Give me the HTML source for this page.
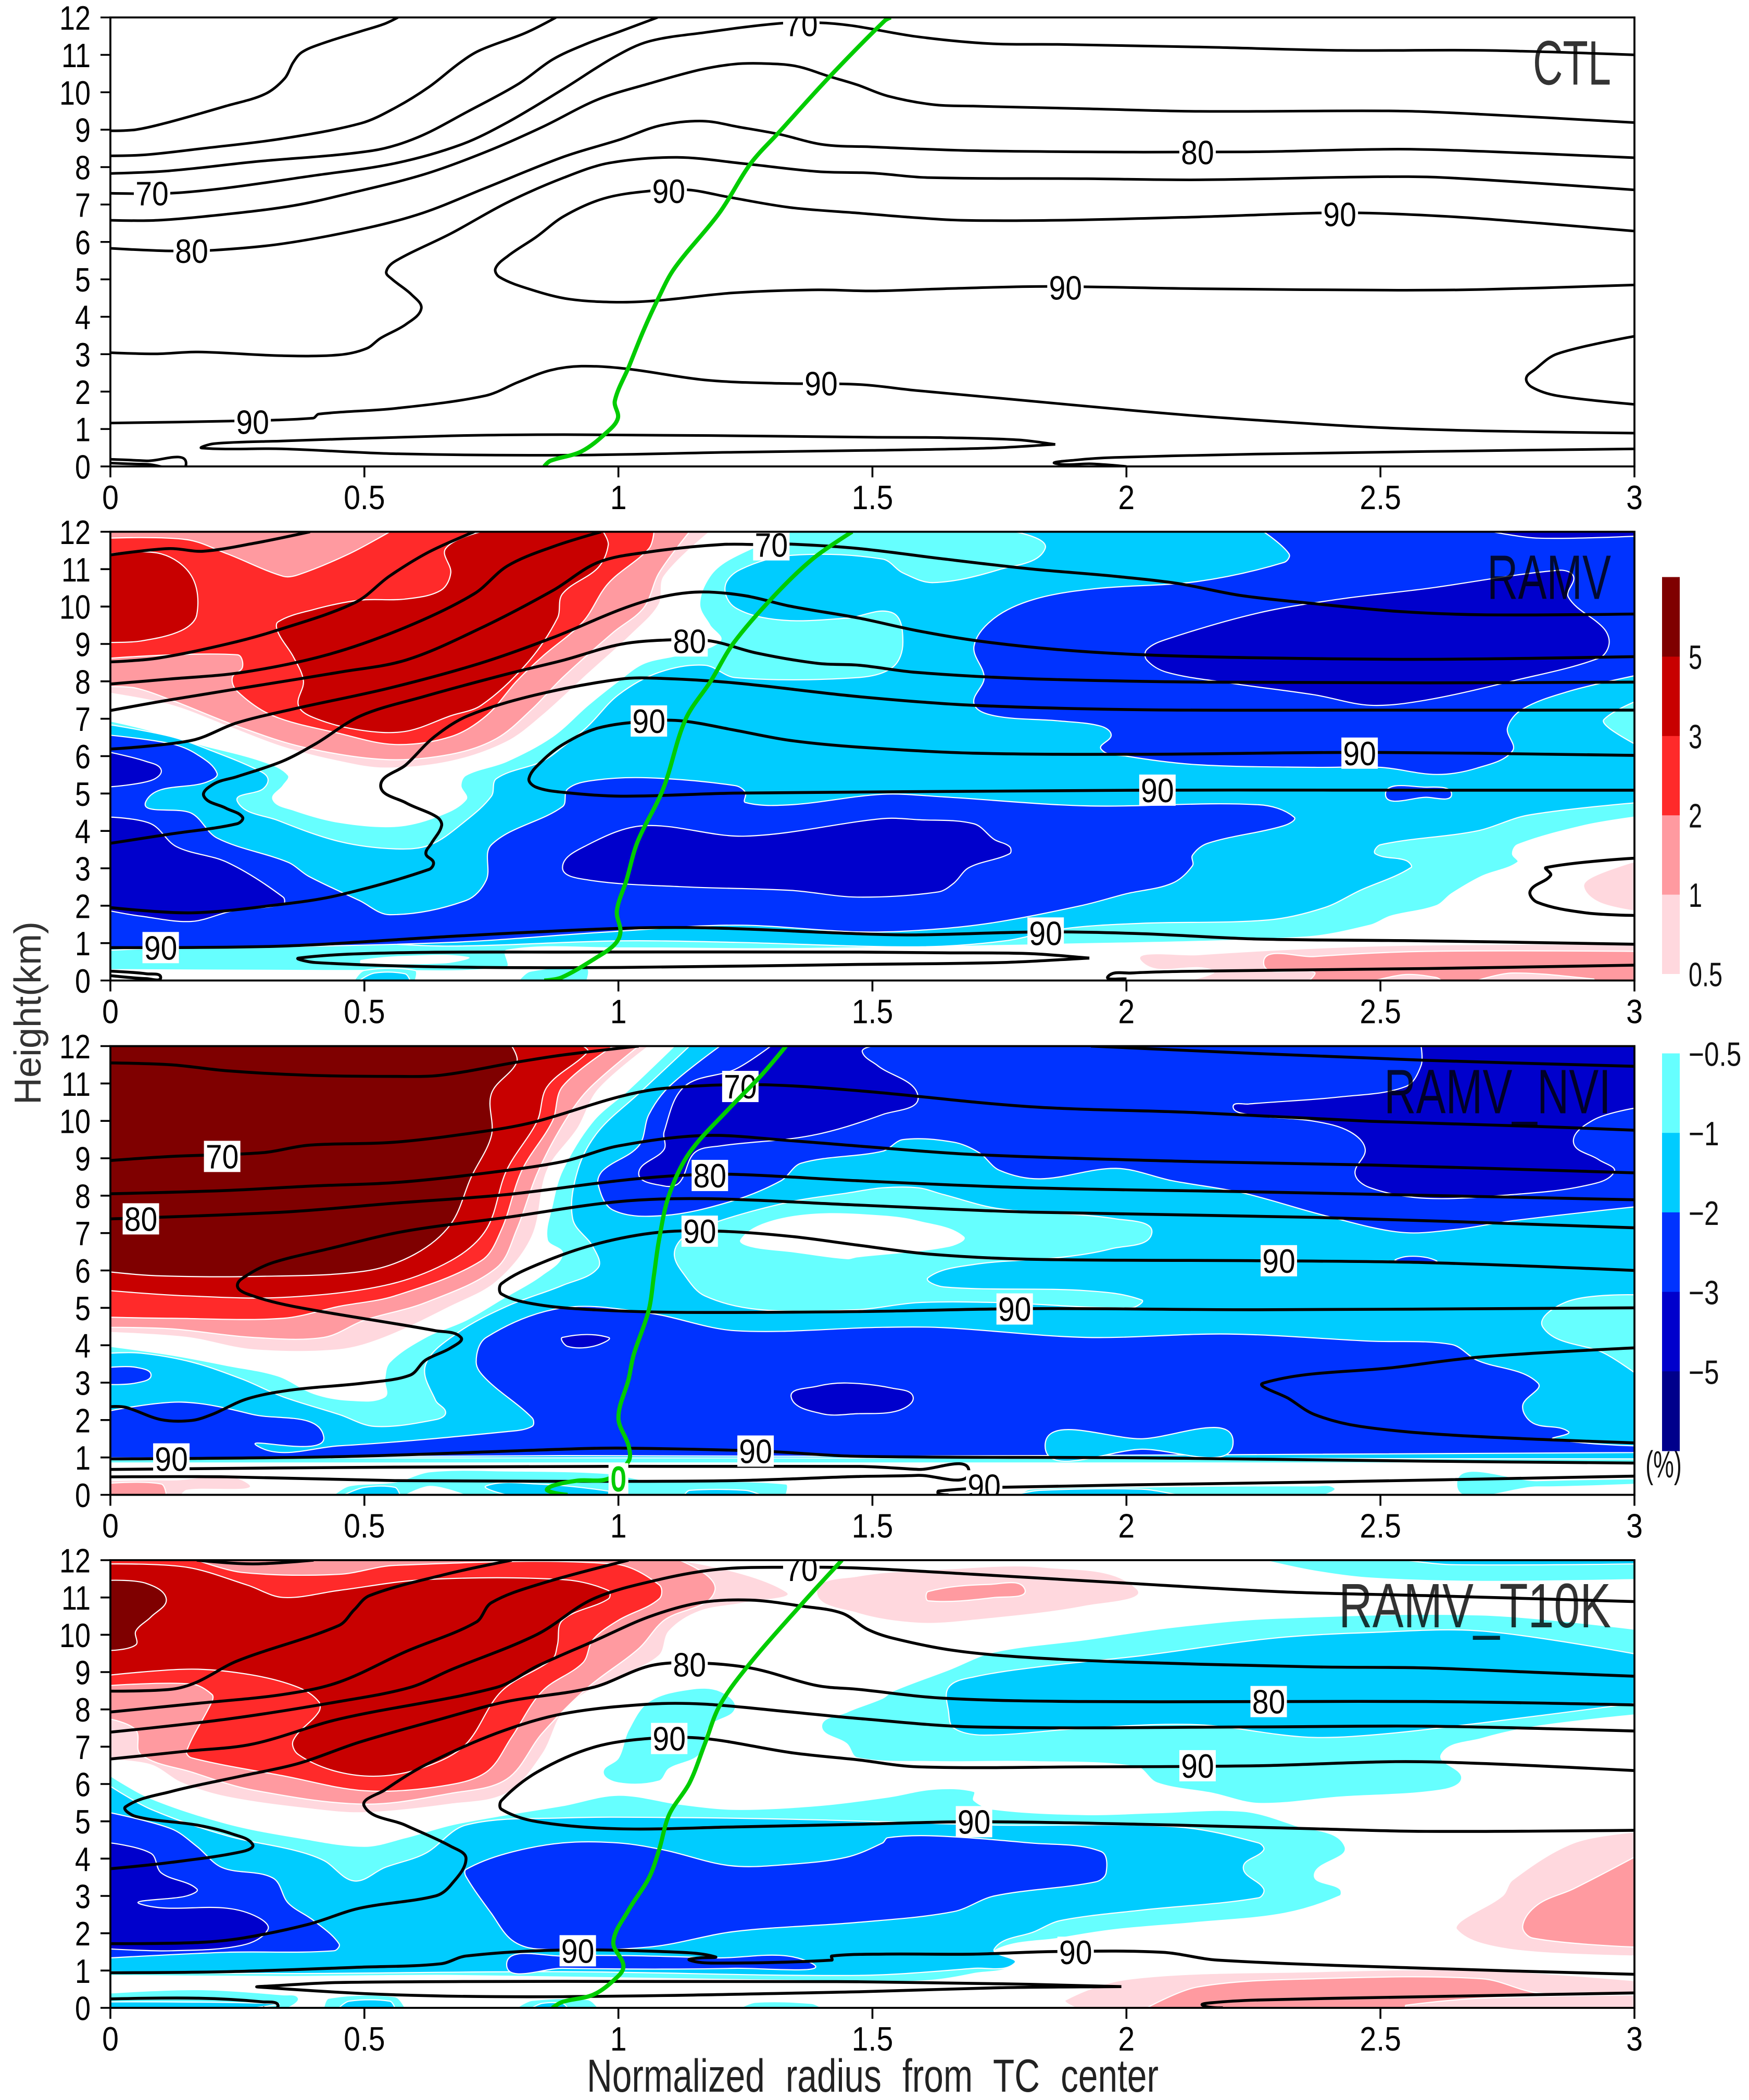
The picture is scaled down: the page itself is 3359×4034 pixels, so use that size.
<!DOCTYPE html>
<html lang="en">
<head>
<meta charset="utf-8">
<title>Relative humidity cross sections</title>
<style>
html,body{margin:0;padding:0;background:#fff;}
svg{display:block;font-family:"Liberation Sans",sans-serif;}
</style>
</head>
<body>
<svg id="chart" xmlns="http://www.w3.org/2000/svg" width="3359" height="4034" viewBox="0 0 3359 4034">
<rect x="0" y="0" width="3359" height="4034" fill="#ffffff"/>
<text transform="translate(78,1946) rotate(-90)" font-size="72" text-anchor="middle" fill="#333">Height(km)</text>
<text x="1127" y="4018" font-size="89" word-spacing="28" textLength="1098" lengthAdjust="spacingAndGlyphs" fill="#222">Normalized radius from TC center</text>
<text transform="translate(3195,2838) scale(.62,1)" font-size="72" text-anchor="middle" fill="#111">(%)</text>
</svg>
<script>
const xTicks = [0, 0.5, 1, 1.5, 2, 2.5, 3];
const xTickLabels = ['0', '0.5', '1', '1.5', '2', '2.5', '3'];
const yTicks = [0, 1, 2, 3, 4, 5, 6, 7, 8, 9, 10, 11, 12];
const positiveLevels = [0.5, 1, 2, 3, 5];
const negativeLevels = [-0.5, -1, -2, -3, -5];
const panelTitles = ['CTL', 'RAMV', 'RAMV_NVI', 'RAMV_T10K'];

/* ---------- CTL ---------- */
const ctlContours = [
[0,8.97,.05,9,.115,9.2,.227,9.63,.304,9.95,.343,10.37,.36,10.8,.377,11.07,.416,11.3,.493,11.63,.538,11.82,.566,12],
[0,8.3,.07,8.33,.182,8.5,.338,8.76,.493,9.17,.56,9.58,.627,10.14,.688,10.79,.727,11.12,.816,11.58,.877,12],
[0,7.83,.115,7.9,.282,8.14,.516,8.44,.604,8.79,.704,9.49,.804,10.23,.871,10.88,.938,11.3,1.004,11.63,1.077,12],
[0,7.3,.115,7.3,.227,7.44,.393,7.76,.56,8.1,.69,8.6,.782,9.2,.893,10.1,.993,10.95,1.06,11.36,1.171,11.6,1.316,11.84,1.393,11.86,1.46,11.78,1.586,11.49,1.731,11.3,1.865,11.28,2.144,11.21,2.424,11.12,2.703,11.12,3,11],
[0,6.58,.093,6.58,.227,6.74,.36,6.97,.471,7.3,.616,7.8,.738,8.4,.85,9.07,.96,9.81,1.06,10.23,1.16,10.6,1.227,10.75,1.282,10.77,1.349,10.7,1.416,10.42,1.47,10.2,1.53,9.9,1.62,9.67,1.698,9.63,1.921,9.56,2.144,9.49,2.535,9.5,2.703,9.41,3,9.19],
[0,5.83,.115,5.76,.204,5.78,.338,5.95,.504,6.37,.616,6.78,.738,7.44,.893,8.28,1.004,8.74,1.082,9.11,1.166,9.23,1.238,9.07,1.316,8.88,1.404,8.6,1.5,8.54,1.698,8.44,2.033,8.4,2.256,8.41,2.535,8.48,2.703,8.42,3,8.25],
[0,3.04,.093,3.01,.171,3.06,.338,2.96,.449,2.98,.504,3.15,.532,3.43,.582,3.8,.612,4.22,.593,4.59,.554,5.01,.543,5.2,.56,5.48,.671,6.23,.782,7.06,.893,7.72,.982,8.11,1.116,8.26,1.249,8.09,1.393,7.88,1.5,7.84,1.608,7.72,1.921,7.69,2.144,7.66,2.48,7.74,2.625,7.72,3,7.39],
[3,6.29,2.815,6.5,2.647,6.67,2.48,6.77,2.368,6.77,2.144,6.67,1.865,6.58,1.675,6.58,1.564,6.67,1.474,6.77,1.338,6.92,1.216,7.2,1.138,7.39,1.06,7.36,.971,7.16,.893,6.69,.838,6.13,.782,5.62,.758,5.29,.766,5.06,.827,4.73,.904,4.47,1.004,4.39,1.082,4.44,1.227,4.64,1.393,4.72,1.5,4.69,1.642,4.75,1.843,4.81,2.144,4.75,2.535,4.71,2.703,4.73,3,4.85],
[3,3.48,2.848,3.01,2.804,2.59,2.787,2.36,2.798,2.12,2.848,1.89,3,1.66],
[0,1.16,.227,1.21,.399,1.29,.41,1.4,.56,1.55,.738,1.89,.804,2.26,.866,2.57,.927,2.68,1.016,2.61,1.171,2.31,1.316,2.22,1.474,2.19,1.586,2.03,1.81,1.75,2.033,1.47,2.2,1.29,2.48,1.05,2.703,.95,3,.89],
[3,.47,2.591,.4,2.256,.33,1.977,.24,1.899,.17,1.86,.08,1.932,.07,2,0],
[1.86,.59,1.788,.71,1.642,.77,1.5,.78,1.227,.82,.893,.85,.671,.82,.338,.68,.204,.61,.18,.49,.338,.47,.56,.34,.893,.3,1.227,.38,1.5,.43,1.731,.49,1.86,.59],
[0,.19,.071,.15,.149,.08,.071,.06,0,.09]
];
const ctlGreen = [.854,0,.866,.15,.927,.4,.977,.91,.999,1.29,.993,1.75,1.021,2.68,1.049,3.62,1.077,4.45,1.11,5.29,1.199,6.78,1.26,8.09,1.316,8.93,1.416,10.42,1.524,11.91,1.536,12];
const ctlLabels = [[.082,7.3,'70'],[.16,5.76,'80'],[.28,1.19,'90'],[1.099,7.36,'90'],[1.399,2.22,'90'],[1.36,11.82,'70'],[2.14,8.4,'80'],[2.42,6.74,'90'],[1.88,4.78,'90']];
const ctlFills = [];

/* ---------- RAMV ---------- */
const ramvFills = [
[-0.5,[0,6.94,.06,6.75,.17,6.33,.30,5.86,.35,5.49,.34,5.21,.32,4.84,.36,4.56,.45,4.23,.56,4.12,.64,4.37,.70,4.84,.69,5.21,.70,5.49,.78,5.86,.87,6.52,.94,7.36,1.0,8.01,1.05,8.48,1.12,8.71,1.20,9.08,1.18,9.5,1.16,10.06,1.18,10.81,1.22,11.27,1.34,12,3,12,3,4.37,2.90,4.14,2.77,3.63,2.76,3.39,2.77,3.16,2.70,2.79,2.64,2.32,2.61,2.0,2.52,1.72,2.48,1.48,2.35,1.16,1.81,.95,1.59,.9,1.3,.85,1.0,.87,.78,.81,.78,.36,.50,.27,.36,.27,0,.29]],
[0,[.493,.55,.582,.66,.704,.63,.66,.46,.493,.46]],
[-0.5,[.804,0,.827,.25,.938,.32,.938,0]],
[-0.5,[.48,0,.50,.27,.60,.27,.60,0]],
[-1,[.49,0,.52,.2,.58,.18,.59,0]],
[-1,[0,6.84,.12,6.52,.20,6.14,.29,5.63,.31,5.40,.30,5.12,.25,4.79,.33,4.28,.45,3.72,.56,3.52,.63,3.63,.70,4.28,.75,4.93,.76,5.40,.85,5.86,.89,6.24,.94,6.80,1.0,7.64,1.08,8.24,1.17,8.43,1.23,8.10,1.47,8.10,1.54,8.38,1.56,9.04,1.54,9.83,1.45,9.69,1.32,9.64,1.23,9.97,1.21,10.53,1.24,10.99,1.34,11.37,1.52,11.27,1.56,10.9,1.62,10.64,1.75,10.99,1.84,11.55,1.78,12,3,12,3,4.75,2.79,4.42,2.69,4.0,2.50,3.63,2.49,3.39,2.55,3.21,2.56,3.02,2.46,2.41,2.39,1.95,2.28,1.62,2.03,1.53,1.88,1.39,1.76,1.06,1.59,.9,1.23,1.02,1.0,1.06,.67,.92,.45,1.02,0,.81]],
[-2,[0,6.56,.12,6.33,.17,6.05,.21,5.54,.19,5.31,.07,4.79,.16,4.47,.21,3.81,.35,3.16,.39,2.79,.49,2.14,.55,1.76,.70,2.14,.74,2.69,.75,3.63,.89,4.65,.90,5.12,.95,5.35,1.06,5.42,1.23,5.21,1.25,5.03,1.25,4.76,1.34,4.70,1.52,4.98,1.64,4.91,1.92,4.67,2.26,4.70,2.33,4.37,2.31,4.14,2.16,3.67,2.13,3.35,2.13,3.07,2.09,2.60,2.0,2.32,1.91,2.0,1.73,1.53,1.59,1.34,1.47,1.30,1.23,1.48,.98,1.30,.67,1.02,.23,.88,0,.88]],
[-2,[2.27,12,2.32,11.41,2.31,11.18,2.14,10.67,1.94,10.48,1.82,10.2,1.74,9.69,1.70,8.94,1.72,8.10,1.70,7.40,1.74,7.08,1.87,6.94,1.95,6.80,1.97,6.56,1.95,6.19,2.0,6.0,2.14,5.77,2.37,5.70,2.50,5.70,2.61,5.51,2.69,5.68,2.76,6.14,2.75,6.75,2.78,7.26,2.87,7.73,3,8.15,3,12]],
[-2,[2.51,4.98,2.59,5.17,2.64,4.98,2.59,4.90]],
[-3,[2.04,8.85,2.08,9.13,2.26,9.83,2.42,10.2,2.59,10.48,2.85,10.97,2.88,10.81,2.87,10.25,2.94,9.41,2.95,8.99,2.93,8.62,2.76,8.01,2.59,7.50,2.48,7.36,2.37,7.64,2.2,7.96,2.08,8.24,2.04,8.57]],
[-3,[2.72,12,2.81,11.83,3,11.88,3,12]],
[-3,[.89,3.02,.94,3.63,1.05,4.14,1.25,3.86,1.52,4.33,1.59,4.30,1.70,4.19,1.74,3.77,1.77,3.58,1.77,3.39,1.69,3.02,1.66,2.60,1.63,2.37,1.47,2.23,1.34,2.41,1.12,2.51,.94,2.69]],
[-3,[0,6.10,.07,5.86,.10,5.63,.08,5.35,0,5.18]],
[-3,[0,4.37,.08,4.19,.13,3.58,.23,3.16,.34,2.23,.34,2.04,.24,1.86,.16,1.58,.06,1.72,0,1.86]],
[-0.5,[3,7.45,2.94,6.98,2.95,6.75,3,6.33]],
[0.5,[3,3.18,2.92,2.79,2.90,2.51,2.93,2.09,3,1.86]],
[0.5,[2.03,.5,2.14,.69,2.48,.92,2.76,.97,3,.97,3,0,2.12,0,2.17,.27]],
[1,[2.27,.48,2.37,.64,2.59,.78,3,.78,3,0,2.36,0,2.37,.22]],
[0.5,[2.49,0,2.55,.16,2.61,.08,2.62,0]],
[0.5,[2.69,0,2.76,.2,2.92,.04,2.92,0]],
[0.5,[0,12,0,7.68,.12,7.36,.23,6.80,.34,6.24,.45,5.86,.54,5.68,.67,5.86,.78,6.38,.85,7.08,.94,8.20,1.03,9.31,1.08,10.06,1.09,10.81,1.18,12]],
[1,[0,12,0,7.86,.05,7.82,.12,7.5,.25,6.80,.38,6.24,.54,5.91,.67,6.05,.76,6.47,.83,7.26,.89,8.10,.99,9.31,1.05,9.97,1.08,10.9,1.14,12]],
[2,[0,11.83,.15,11.79,.23,11.41,.34,10.81,.37,10.85,.47,11.41,.55,12,1.07,12,1.06,11.55,.98,10.62,.93,9.59,.85,8.66,.80,8.01,.74,7.08,.67,6.52,.56,6.31,.45,6.61,.32,7.08,.25,7.73,.24,8.10,.26,8.38,.25,8.71,0,8.62]],
[3,[.73,12,.97,12,.98,11.65,.96,11.04,.89,10.34,.88,9.69,.82,8.48,.73,7.36,.67,7.08,.58,6.66,.49,6.70,.40,7.03,.37,7.36,.38,8.01,.36,8.66,.33,9.31,.33,9.59,.40,9.92,.49,10.17,.58,10.2,.65,10.43,.67,10.9,.66,11.55]],
[3,[0,11.41,.10,11.41,.16,10.81,.17,9.78,.14,9.36,.06,9.08,0,9.04]]
];
const ramvContours = [
[0,11.38,.115,11.55,.182,11.48,.282,11.69,.393,12],
[0,8.52,.093,8.62,.227,8.99,.327,9.36,.482,10.11,.549,10.81,.627,11.46,.716,12],
[0,7.93,.115,8.06,.26,8.24,.427,8.71,.582,9.45,.716,10.34,.782,11.09,.871,11.6,.966,12],
[0,7.22,.115,7.5,.282,7.87,.449,8.24,.582,8.57,.727,9.41,.871,10.43,.96,11.18,1.06,11.46,1.204,11.66,1.301,11.65,1.338,11.67,1.474,11.55,1.642,11.27,1.809,11.01,1.977,10.81,2.1,10.62,2.223,10.3,2.368,10.08,2.535,9.87,2.703,9.78,3,9.8],
[0,6.19,.16,6.42,.249,6.89,.36,7.26,.549,7.82,.727,8.48,.871,9.17,1.004,9.92,1.082,10.25,1.16,10.39,1.249,10.29,1.338,10.01,1.474,9.69,1.586,9.36,1.709,9.08,1.865,8.85,2.033,8.71,2.256,8.63,2.591,8.59,3,8.66],
[0,3.67,.115,3.91,.249,4.19,.26,4.37,.227,4.61,.184,4.93,.204,5.26,.249,5.45,.338,5.86,.404,6.33,.493,7.08,.616,7.59,.782,8.2,.893,8.57,1.004,8.99,1.104,9.11,1.182,9.08,1.271,8.76,1.393,8.48,1.474,8.43,1.586,8.24,1.809,8.07,2.144,7.98,2.591,7.96,3,7.98],
[0,1.95,.16,1.81,.338,2.04,.449,2.28,.627,2.97,.636,3.16,.621,3.39,.632,3.67,.652,4.14,.643,4.37,.582,4.75,.532,5.21,.582,5.77,.638,6.52,.704,7.08,.838,7.64,1.004,8.06,1.082,8.08,1.227,7.96,1.474,7.59,1.698,7.36,2.033,7.24,2.48,7.23,3,7.23],
[3,6.02,2.48,6.1,2.033,6.05,1.698,6.08,1.474,6.24,1.338,6.42,1.227,6.7,1.127,6.94,1.06,6.94,.96,6.75,.893,6.33,.849,5.86,.824,5.4,.838,5.17,.893,5.03,1.004,4.93,1.227,5.01,1.474,5.04,2.033,5.09,2.591,5.09,3,5.09],
[3,3.27,2.826,3.02,2.835,2.81,2.795,2.4,2.809,2.09,2.904,1.81,3,1.74],
[0,.88,.338,.92,.671,1.18,.993,1.39,1.171,1.41,1.474,1.25,1.586,1.22,1.843,1.3,2.033,1.25,2.256,1.11,2.591,1.06,3,.97],
[1.927,.6,1.809,.72,1.642,.74,1.474,.76,.893,.76,.56,.74,.371,.6,.404,.48,.671,.36,1.004,.35,1.474,.43,1.754,.48,1.927,.6],
[3,.41,2.591,.32,2.144,.25,2.01,.2,1.964,.11,2,.04],
[0,.25,.071,.18,.099,.08,.071,.05,0,.13]
];
const ramvGreen = [.854,0,.888,.08,.96,.64,.993,.97,1.004,1.3,.997,1.86,1.016,2.69,1.038,3.72,1.088,5.12,1.132,6.98,1.182,8.01,1.227,9.03,1.304,10.25,1.382,11.27,1.46,12];
const ramvLabels = [[1.301,11.65,'70'],[1.14,9.08,'80'],[1.06,6.94,'90'],[.099,.88,'90'],[2.459,6.08,'90'],[2.061,5.09,'90'],[1.841,1.27,'90']];

/* ---------- RAMV_NVI ---------- */
const nviFills = [
[-0.5,[0,3.97,.12,3.74,.23,3.46,.33,3.18,.40,2.71,.47,2.53,.54,2.62,.54,3.09,.55,3.55,.62,4.21,.70,4.67,.77,5.23,.85,5.88,.89,6.44,.86,6.82,.87,7.75,.89,8.68,.95,9.99,1.02,10.83,1.11,12,3,12,3,.85,1.0,.85,0,.85]],
[-0.5,[.44,0,.47,.24,.56,.34,.63,.62,.78,.64,.98,.57,1.06,.38,1.33,.29,1.33,0]],
[0,[.58,0,.63,.24,.70,0]],
[-1,[.74,.24,.84,.29,.98,.10,.98,0,.78,0]],
[-1,[.46,0,.50,.2,.56,.2,.57,0]],
[-1,[1.13,0,1.14,.12,1.25,.12,1.28,0]],
[-0.5,[1.79,0,1.81,.15,2.03,.21,2.37,.24,2.41,.18,2.39,0]],
[-1,[1.78,0,1.83,.12,2.03,.15,2.10,0]],
[-0.5,[2.65,.29,2.81,.38,3,.43,3,.28,2.81,.21]],
[-1,[1.14,12,1.04,10.73,.96,9.71,.92,8.68,.91,7.38,.95,6.63,.96,6.07,.89,5.60,.78,5.04,.68,4.30,.62,3.46,.64,2.53,.66,2.20,.64,2.01,.52,1.83,.45,2.15,.34,2.62,.26,3.09,.16,3.55,.06,3.79,0,3.79,0,.98,1.0,.99,3,.96,3,12]],
[-0.5,[1.11,6.44,1.13,6.91,1.20,7.33,1.34,7.84,1.45,8.07,1.52,8.21,1.59,8.21,1.64,8.03,1.75,7.65,1.98,7.38,2.05,7.0,1.97,6.58,1.87,6.35,1.70,6.16,1.61,5.81,1.64,5.56,1.92,5.46,2.03,5.21,2.01,5.0,1.75,5.14,1.59,5.14,1.47,4.95,1.28,4.95,1.17,5.32,1.13,5.88]],
[0,[1.24,6.82,1.29,7.28,1.39,7.52,1.52,7.47,1.59,7.33,1.68,6.91,1.65,6.63,1.47,6.35,1.45,6.30,1.34,6.49,1.26,6.63]],
[-0.5,[3,5.35,2.87,5.18,2.82,4.48,2.94,3.79,3,3.27]],
[-2,[1.20,12,1.10,10.92,1.06,10.17,1.04,9.33,.97,8.68,.96,8.31,.99,7.61,1.09,7.47,1.22,7.84,1.32,8.40,1.36,8.87,1.52,9.19,1.56,9.50,1.66,9.43,1.71,9.15,1.75,8.68,1.83,8.45,1.98,8.73,2.09,8.40,2.23,8.07,2.39,7.47,2.54,7.02,2.65,7.10,2.76,7.33,3,7.70,3,12]],
[-2,[.74,4.21,.89,5.0,1.06,4.86,1.23,4.39,1.52,4.48,1.64,4.47,1.92,4.21,2.20,4.30,2.48,4.11,2.64,4.02,2.69,3.60,2.81,2.99,2.78,2.39,2.80,1.92,2.87,1.69,2.84,1.50,3,1.31,3,1.13,1.47,1.03,.89,1.05,.12,.99,0,.99,0,2.25,.14,2.48,.28,2.15,.42,1.55,.29,1.30,.45,1.31,.78,1.69,.83,1.83,.83,2.06,.74,3.09,.72,3.55]],
[-2,[0,3.41,.05,3.41,.08,3.20,.05,2.99,0,2.95]],
[-1,[1.84,1.31,2.03,1.50,2.21,1.41,2.03,1.22]],
[-2,[2.53,6.26,2.55,6.37,2.59,6.35,2.61,6.23]],
[-3,[1.30,12,1.23,11.38,1.13,10.92,1.09,9.71,1.09,9.24,1.04,8.59,1.09,8.26,1.12,8.35,1.15,9.15,1.20,9.33,1.38,9.61,1.52,10.17,1.59,10.64,1.51,11.48,1.48,11.85,1.50,12]],
[-3,[2.58,12,2.58,11.48,2.55,10.92,2.42,10.64,2.24,10.45,2.21,10.38,2.24,10.17,2.37,9.99,2.44,9.71,2.47,9.24,2.45,8.59,2.48,8.21,2.59,7.93,2.76,8.03,2.90,8.26,2.96,8.63,2.93,8.96,2.88,9.43,2.92,10.03,3,10.34,3,12]],
[-3,[.89,4.21,.98,4.21,.95,3.97,.90,3.97]],
[-3,[1.34,2.62,1.39,2.90,1.45,2.99,1.54,2.85,1.58,2.62,1.55,2.25,1.47,2.17,1.40,2.17]],
[0.5,[0,.38,.12,.40,.27,.32,.15,.12,.14,0,0,0]],
[1,[0,.31,.10,.29,.11,0,0,0]],
[0.5,[0,12,1.06,12,.96,10.83,.92,9.80,.86,8.68,.83,6.91,.76,5.70,.67,5.04,.54,4.21,.45,3.88,.28,3.88,.15,4.21,0,4.34]],
[1,[0,12,1.04,12,.94,10.83,.89,9.89,.84,8.59,.80,7.10,.76,6.07,.62,5.14,.50,4.67,.42,4.21,.28,4.21,.12,4.44,0,4.48]],
[2,[0,12,.99,12,.89,10.92,.87,9.99,.81,8.68,.77,7.10,.73,6.26,.56,5.32,.45,5.04,.34,4.72,.12,4.72,0,4.75]],
[3,[0,12,.93,12,.94,11.85,.86,10.92,.84,9.99,.78,8.68,.74,7.10,.67,6.26,.54,5.60,.34,5.28,.15,5.32,0,5.46]],
[5,[0,12,.79,12,.80,11.57,.75,10.73,.75,9.61,.71,8.49,.67,7.24,.60,6.44,.50,5.98,.28,5.84,.09,5.86,0,5.96]]
];
const nviContours = [
[1.93,12,2.26,11.80,2.59,11.62,3,11.46],
[0,11.55,.12,11.50,.23,11.34,.39,11.22,.56,11.19,.65,11.22,.80,11.57,.89,11.76,1.04,12],
[0,8.94,.12,9.05,.30,9.15,.39,9.35,.56,9.43,.75,9.75,.84,9.99,1.0,10.64,1.09,10.87,1.27,10.97,1.47,10.81,1.81,10.38,2.14,10.22,2.48,9.99,2.81,9.85,3,9.75],
[0,8.05,.23,8.14,.40,8.26,.56,8.35,.73,8.59,.89,8.91,1.0,9.33,1.17,9.61,1.34,9.47,1.47,9.33,1.70,9.10,2.14,8.91,2.48,8.82,3,8.61],
[0,7.38,.34,7.56,.56,7.80,.78,8.03,1.0,8.40,1.12,8.54,1.23,8.57,1.47,8.40,1.81,8.21,2.26,8.10,3,7.89],
[0,2.36,.03,2.34,.10,2.01,.16,1.99,.20,2.15,.27,2.57,.36,2.81,.50,2.99,.59,3.20,.62,3.60,.67,3.93,.69,4.21,.64,4.39,.36,5.04,.27,5.37,.25,5.60,.27,5.88,.32,6.21,.43,6.58,.58,7.05,.78,7.42,1.0,7.84,1.17,7.92,1.47,7.75,1.81,7.56,2.37,7.42,3,7.14],
[3,6.0,2.59,6.21,2.26,6.26,1.81,6.30,1.61,6.44,1.47,6.68,1.34,6.91,1.20,7.05,1.08,7.02,.96,6.72,.85,6.21,.77,5.65,.77,5.37,.84,5.09,.95,4.95,1.12,4.88,1.47,4.90,1.81,4.98,2.26,4.95,3,5.0],
[3,3.93,2.70,3.69,2.53,3.41,2.27,2.99,2.32,2.57,2.37,2.15,2.46,1.83,2.65,1.59,3,1.39],
[0,.96,.45,1.02,.89,1.22,1.0,1.25,1.28,1.17,1.47,1.03,2.03,.99,2.59,.90,3,.85],
[0,.68,.56,.74,1.47,.76,1.59,.68,1.69,.62,1.59,.52,1.47,.49,1.23,.38,.89,.36,.56,.38,.23,.48,0,.48],
[3,.5,2.37,.34,1.75,.20,1.63,.10,1.63,.03,1.65,0]
];
const nviGreen = [.90,0,.86,.12,.87,.24,.92,.38,.98,.43,1.02,.9,1.02,1.31,1.0,2.06,1.02,3.09,1.03,3.74,1.06,4.95,1.07,5.88,1.08,6.82,1.10,8.03,1.14,9.15,1.22,10.36,1.28,11.2,1.33,12];
const nviLabels = [[.22,9.05,'70'],[.06,7.38,'80'],[1.24,10.92,'70'],[1.18,8.54,'80'],[1.16,7.05,'90'],[.12,.96,'90'],[1.27,1.17,'90'],[2.30,6.26,'90'],[1.78,4.97,'90'],[1.72,.24,'90'],[1.0,.43,'0']];

/* ---------- RAMV_T10K ---------- */
const t10kFills = [
[-0.5,[0,6.22,.08,5.61,.23,4.94,.37,4.56,.50,4.33,.58,4.56,.67,4.90,.76,5.13,.89,5.42,1.0,5.70,1.12,5.46,1.23,5.32,1.39,5.42,1.53,5.65,1.62,5.86,1.70,5.80,1.70,5.56,1.74,5.32,1.92,5.18,2.06,5.23,2.23,5.27,2.33,4.90,2.43,4.33,2.37,3.57,2.42,3.19,2.42,3.0,2.31,2.53,2.14,2.29,1.98,2.10,1.87,1.87,1.74,1.53,1.78,1.20,1.70,.92,1.61,.73,1.47,.71,1.12,.78,.67,.87,.34,.84,0,.87]],
[-0.5,[2.27,12,2.37,11.71,2.48,11.52,2.70,11.43,3,11.48,3,12]],
[-1,[2.55,12,2.64,11.88,3,11.90,3,12]],
[-0.5,[1.40,7.55,1.45,7.93,1.52,8.30,1.54,8.49,1.65,9.06,1.74,9.54,1.92,9.87,2.09,10.2,2.29,10.44,2.70,10.53,3,10.15,3,7.85,2.81,7.55,2.70,7.22,2.62,6.79,2.66,6.17,2.62,5.84,2.42,5.65,2.26,5.48,2.17,5.75,2.06,6.03,2.02,6.46,1.81,6.60,1.62,6.60,1.47,6.70,1.45,7.07]],
[-0.5,[1.0,6.70,1.02,7.45,1.06,8.21,1.14,8.54,1.20,8.49,1.23,8.02,1.18,7.55,1.16,6.79,1.10,6.41,1.08,6.08,1.0,6.03,.97,6.32]],
[-1,[0,5.94,.08,5.32,.23,4.61,.36,4.23,.42,3.95,.48,3.40,.54,3.76,.62,4.14,.70,4.90,.89,5.09,1.12,5.10,1.39,5.04,1.74,4.90,2.10,4.85,2.26,4.42,2.27,4.23,2.23,3.76,2.27,3.19,2.26,2.95,2.03,2.62,1.87,2.34,1.82,2.05,1.74,1.58,1.78,1.20,1.70,1.06,1.47,.87,.89,.97,.34,.92,0,.97]],
[-1,[1.65,8.59,1.70,8.87,1.84,9.16,2.03,9.44,2.29,9.91,2.48,10.06,2.70,10.10,3,9.49,3,8.16,2.70,7.64,2.48,7.31,2.35,7.26,2.14,7.59,1.92,7.5,1.72,7.31,1.66,7.5,1.65,7.93]],
[-2,[0,5.23,.12,4.80,.17,4.33,.22,3.76,.32,3.48,.35,2.81,.40,2.34,.45,1.72,.44,1.53,.23,1.49,0,1.34]],
[-2,[.70,3.52,.70,3.71,.78,4.14,.89,4.42,1.0,4.42,1.09,4.23,1.22,3.81,1.34,3.85,1.45,4.04,1.52,4.42,1.53,4.56,1.62,4.61,1.81,4.42,1.95,4.19,1.96,3.62,1.94,3.38,1.74,3.0,1.66,2.58,1.47,2.29,1.23,2.05,1.06,1.63,.84,1.58,.79,1.82,.75,2.53]],
[-2,[.78,1.16,.89,1.39,1.19,1.34,1.38,1.20,1.23,1.06,.89,1.06]],
[-3,[0,4.42,.08,4.14,.10,3.62,.17,3.19,.15,3.0,.06,2.78,.23,2.67,.29,2.43,.31,2.10,.26,1.68,.12,1.53,0,1.58]],
[-0.5,[0,.40,.17,.49,.34,.35,.37,.26,.35,0,0,0]],
[-1,[0,.16,.33,.11,.28,0,0,0]],
[-0.5,[.42,0,.43,.26,.56,.30,.58,0]],
[-1,[.45,0,.47,.18,.55,.18,.56,0]],
[-0.5,[.80,0,.83,.2,.94,.22,.96,0]],
[-1,[.83,0,.85,.12,.89,.12,.90,0]],
[-0.5,[1.24,0,1.27,.15,1.38,.12,1.40,0]],
[0.5,[0,12,1.12,12,1.33,11.16,1.25,10.86,1.16,10.63,1.10,10.10,1.08,9.44,1.0,8.87,.93,8.40,.89,7.93,.85,6.79,.78,5.75,.67,5.46,.50,5.23,.40,5.32,.23,5.65,.14,6.03,.08,6.51,0,6.65]],
[1,[0,12,1.12,12,1.19,11.19,1.09,10.39,1.04,9.63,.94,8.59,.85,7.36,.78,6.13,.67,5.75,.50,5.46,.28,5.84,.16,6.32,.06,6.79,.05,7.45,0,7.74]],
[2,[0,12,.17,12,.26,11.67,.45,11.62,.56,11.86,.99,11.90,1.08,11.34,1.08,10.96,1.0,10.39,.95,9.87,.93,9.25,.85,8.49,.79,7.26,.74,6.32,.65,5.94,.50,5.82,.34,6.22,.16,6.70,.15,6.88,.20,8.21,.20,8.40,.16,8.68,0,8.64]],
[3,[0,11.90,.15,11.81,.27,11.33,.34,11.0,.45,11.19,.62,11.48,.89,11.48,.98,11.19,.98,10.96,.89,10.39,.88,9.73,.87,9.35,.77,8.49,.70,7.07,.63,6.51,.54,6.22,.45,6.32,.37,6.79,.36,7.17,.41,7.93,.41,8.21,.37,8.59,.28,8.92,.16,9.08,0,8.92]],
[5,[0,11.46,.07,11.38,.11,10.96,.08,10.48,.05,10.10,.05,9.73,0,9.58]],
[0.5,[1.39,11.15,1.47,11.57,1.64,11.76,1.84,11.81,2.02,11.24,1.92,10.77,1.70,10.39,1.59,10.31,1.47,10.58]],
[1,[1.61,11.16,1.73,11.35,1.80,11.22,1.74,11.0,1.61,10.91]],
[0.5,[3,4.71,2.88,4.42,2.76,3.43,2.74,3.0,2.66,2.34,2.65,2.10,2.70,1.72,2.81,1.49,3,1.39]],
[1,[3,4.04,2.88,3.19,2.81,2.77,2.78,2.20,2.80,1.87,3,1.63]],
[0.5,[1.88,.21,2.01,.78,2.37,.97,2.70,1.01,3,.73,3,0,1.90,0]],
[1,[2.04,0,2.14,.56,2.37,.78,2.70,.78,2.81,.40,3,.35,2.70,.26,2.55,.07,2.55,0]]
];
const t10kContours = [
[.17,12,.28,11.90,.40,12],
[0,8.49,.12,8.54,.17,8.73,.25,9.30,.45,10.25,.48,10.67,.51,11.05,.66,11.62,.79,12],
[0,7.93,.17,8.16,.34,8.40,.45,8.73,.58,9.54,.72,10.34,.75,10.86,.85,11.38,1.02,12],
[0,7.39,.23,7.74,.45,8.21,.59,8.59,.67,9.06,.84,10.01,.95,10.96,1.08,11.48,1.20,11.76,1.33,11.81,1.47,11.79,1.70,11.62,1.98,11.40,2.31,11.15,2.59,11.05,3,10.89],
[0,6.67,.15,6.88,.28,7.07,.45,7.74,.76,8.59,.84,9.16,.95,9.82,1.06,10.48,1.16,10.86,1.26,10.93,1.36,10.77,1.44,10.58,1.49,10.15,1.54,9.91,1.66,9.58,1.81,9.39,2.0,9.27,2.37,9.14,2.59,9.11,2.81,8.99,3,8.89],
[0,3.73,.12,3.90,.26,4.19,.28,4.38,.24,4.66,.17,4.90,.05,5.13,.03,5.39,.12,5.80,.26,6.22,.37,6.55,.49,7.12,.65,7.74,.78,8.21,.95,8.59,1.06,9.16,1.14,9.25,1.26,9.11,1.39,8.64,1.47,8.54,1.64,8.30,1.92,8.21,2.59,8.21,3,8.12],
[0,1.72,.17,1.75,.26,1.87,.39,2.24,.49,2.67,.64,3.0,.67,3.29,.70,4.0,.67,4.33,.58,4.90,.50,5.40,.54,5.84,.62,6.51,.76,7.36,.89,7.88,1.06,8.14,1.17,8.14,1.34,7.93,1.47,7.76,1.70,7.53,2.26,7.53,2.59,7.55,3,7.42],
[3,6.36,2.70,6.55,2.53,6.60,2.26,6.49,1.92,6.46,1.59,6.46,1.47,6.65,1.34,6.84,1.17,7.22,1.06,7.22,.95,6.98,.84,6.32,.77,5.56,.77,5.32,.84,4.99,1.0,4.80,1.23,4.85,1.47,4.92,1.70,4.99,2.03,4.92,2.37,4.80,2.59,4.73,3,4.76],
[0,.94,.23,.97,.49,1.09,.65,1.18,.70,1.39,.89,1.55,1.12,1.49,1.19,1.37,1.16,1.34,1.14,1.28,1.19,1.20,1.42,1.28,1.42,1.39,1.52,1.44,1.70,1.44,1.86,1.51,2.07,1.49,2.18,1.28,2.59,1.06,3,.90],
[1.99,.57,1.81,.63,1.47,.70,.89,.71,.45,.68,.32,.59,.29,.56,.56,.35,.89,.30,1.47,.43,1.75,.54,1.99,.57],
[0,.24,.17,.26,.30,.16,.33,.05,.30,0],
[3,.40,2.59,.30,2.26,.21,2.17,.14,2.15,.07,2.19,0]
];
const t10kGreen = [.87,0,.89,.16,.95,.35,.99,.73,1.01,1.11,.99,1.77,1.02,2.62,1.06,3.48,1.08,4.23,1.10,5.18,1.14,6.03,1.17,7.07,1.20,8.12,1.26,9.25,1.36,10.81,1.44,12];
const t10kLabels = [[1.36,11.76,'70'],[1.14,9.2,'80'],[1.10,7.22,'90'],[.92,1.53,'90'],[2.28,8.21,'80'],[2.14,6.49,'90'],[1.70,4.99,'90'],[1.90,1.49,'90']];

/* ---------- layout and rendering ---------- */
const NS = 'http://www.w3.org/2000/svg';
const svg = document.getElementById('chart');
const plotLeft = 212, plotRight = 3139, xDomain = 3, yDomain = 12;
const panelBoxes = [
  {top: 33.5, bottom: 896, key: 'ctl', fills: ctlFills, contours: ctlContours, green: ctlGreen, labels: ctlLabels, titleWidth: 150},
  {top: 1021.5, bottom: 1883.5, key: 'ramv', fills: ramvFills, contours: ramvContours, green: ramvGreen, labels: ramvLabels, titleWidth: 238},
  {top: 2009.5, bottom: 2871.5, key: 'ramv-nvi', fills: nviFills, contours: nviContours, green: nviGreen, labels: nviLabels, titleWidth: 436},
  {top: 2997, bottom: 3857, key: 'ramv-t10k', fills: t10kFills, contours: t10kContours, green: t10kGreen, labels: t10kLabels, titleWidth: 523}
];

function levelColor(level) {
  if (level === 5) return '#7f0000';
  if (level === 3) return '#c80000';
  if (level === 2) return '#ff2a2a';
  if (level === 1) return '#ff9aa0';
  if (level === 0.5) return '#ffd8de';
  if (level === -0.5) return '#66ffff';
  if (level === -1) return '#00ccff';
  if (level === -2) return '#0033ff';
  if (level === -3) return '#0000cc';
  if (level === -5) return '#00008b';
  return '#ffffff';
}
function xScale(r) { return plotLeft + (r / xDomain) * (plotRight - plotLeft); }
function yScale(h, box) { return box.bottom - (h / yDomain) * (box.bottom - box.top); }
function onEdge(r, h) { return r <= 0 || r >= xDomain || h <= 0 || h >= yDomain; }
function unitTangent(a, b) {
  const dx = b.x - a.x, dy = b.y - a.y, len = Math.hypot(dx, dy) || 1;
  return {x: dx / len, y: dy / len};
}
function smoothPath(flat, box, closed) {
  const pts = [];
  for (let i = 0; i < flat.length; i += 2) {
    pts.push({x: xScale(flat[i]), y: yScale(flat[i + 1], box), edge: onEdge(flat[i], flat[i + 1])});
  }
  const n = pts.length;
  const at = (i) => closed ? pts[(i + n) % n] : pts[Math.max(0, Math.min(n - 1, i))];
  let d = 'M' + pts[0].x.toFixed(1) + ' ' + pts[0].y.toFixed(1);
  const segs = closed ? n : n - 1;
  for (let i = 0; i < segs; i++) {
    const p0 = at(i - 1), p1 = at(i), p2 = at(i + 1), p3 = at(i + 2);
    const span = Math.hypot(p2.x - p1.x, p2.y - p1.y) / 3;
    const t1 = unitTangent(p0, p2), t2 = unitTangent(p1, p3);
    const c1x = p1.edge ? p1.x : p1.x + t1.x * span;
    const c1y = p1.edge ? p1.y : p1.y + t1.y * span;
    const c2x = p2.edge ? p2.x : p2.x - t2.x * span;
    const c2y = p2.edge ? p2.y : p2.y - t2.y * span;
    d += 'C' + c1x.toFixed(1) + ' ' + c1y.toFixed(1) + ' ' + c2x.toFixed(1) + ' ' + c2y.toFixed(1) + ' ' + p2.x.toFixed(1) + ' ' + p2.y.toFixed(1);
  }
  return d + (closed ? 'Z' : '');
}
function make(tag, parent, attrs) {
  const el = document.createElementNS(NS, tag);
  for (const k in attrs) el.setAttribute(k, attrs[k]);
  parent.appendChild(el);
  return el;
}

const defs = make('defs', svg, {});
panelBoxes.forEach((box, index) => {
  const clip = make('clipPath', defs, {id: 'clip-' + index});
  make('rect', clip, {x: plotLeft, y: box.top, width: plotRight - plotLeft, height: box.bottom - box.top});

  const panel = make('g', svg, {});
  
  
  const plot = make('g', panel, {'clip-path': 'url(#clip-' + index + ')'});
  
  

  box.fills.forEach((entry) => {
    const region = make('path', plot, {d: smoothPath(entry[1], box, true), fill: levelColor(entry[0]), stroke: '#ffffff', 'stroke-width': entry[0] === 0 ? 0 : 2.2, 'stroke-linejoin': 'round'});
    
    
  });
  box.contours.forEach((line) => {
    const contour = make('path', plot, {d: smoothPath(line, box, false), fill: 'none', stroke: '#000000', 'stroke-width': index === 0 ? 5 : 5.6, 'stroke-linejoin': 'round'});
    
    
  });
  function drawLabel(item) {
    const isZero = item[2] === '0';
    const w = isZero ? 38 : 70, h = 60;
    const cx = xScale(item[0]), cy = yScale(item[1], box);
    const bg = make('rect', plot, {x: cx - w / 2, y: cy - h / 2, width: w, height: h, fill: '#ffffff'});
    
    
    const t = make('text', plot, {transform: 'translate(' + cx + ',' + (cy + 23) + ') scale(' + (isZero ? 0.78 : 0.88) + ',1)', 'font-size': 65, 'text-anchor': 'middle', fill: isZero ? '#00cc00' : '#000000'});
    if (isZero) { t.setAttribute('stroke', '#00cc00'); t.setAttribute('stroke-width', '3'); }
    
    
    t.textContent = item[2];
  }
  box.labels.filter((l) => l[2] !== '0').forEach(drawLabel);
  const green = make('path', plot, {d: smoothPath(box.green, box, false), fill: 'none', stroke: '#00cc00', 'stroke-width': 8, 'stroke-linejoin': 'round'});
  
  
  box.labels.filter((l) => l[2] === '0').forEach(drawLabel);

  const frame = make('rect', panel, {x: plotLeft, y: box.top, width: plotRight - plotLeft, height: box.bottom - box.top, fill: 'none', stroke: '#000000', 'stroke-width': 3.8});
  
  

  xTicks.forEach((v, i) => {
    const x = xScale(v);
    const tick = make('line', panel, {x1: x, x2: x, y1: box.bottom, y2: box.bottom + 21, stroke: '#000000', 'stroke-width': 3.6});
    
    
    const lab = make('text', panel, {transform: 'translate(' + x + ',' + (box.bottom + 82) + ') scale(.88,1)', 'font-size': 65, 'text-anchor': 'middle', fill: '#000000'});
    
    
    lab.textContent = xTickLabels[i];
  });
  yTicks.forEach((v) => {
    const y = yScale(v, box);
    const tick = make('line', panel, {x1: plotLeft - 19, x2: plotLeft, y1: y, y2: y, stroke: '#000000', 'stroke-width': 3.6});
    
    
    const lab = make('text', panel, {transform: 'translate(174,' + (y + 23.5) + ') scale(.83,1)', 'font-size': 65, 'text-anchor': 'end', fill: '#000000'});
    
    
    lab.textContent = String(v);
  });
  const title = make('text', panel, {x: 3094 - box.titleWidth, y: box.top + 129, 'font-size': 121, textLength: box.titleWidth, lengthAdjust: 'spacingAndGlyphs', fill: '#000000', 'fill-opacity': 0.8});
  
  
  title.textContent = panelTitles[index];
});

function drawColorbar(levels, barTop, barBottom, reversed, labelScale, barName) {
  const bar = make('g', svg, {});
  
  
  const seg = (barBottom - barTop) / levels.length;
  levels.forEach((level, i) => {
    const pos = reversed ? levels.length - 1 - i : i;
    const y = barTop + pos * seg;
    const swatch = make('rect', bar, {x: 3192, y: y, width: 34, height: seg + 0.5, fill: levelColor(level)});
    
    
    const labelY = reversed ? y + seg : y;
    const lab = make('text', bar, {transform: 'translate(3243,' + (labelY + 24) + ') scale(' + labelScale + ',1)', 'font-size': 65, fill: '#111111'});
    
    
    lab.textContent = String(level).replace('-', '\u2212');
  });
}
drawColorbar(positiveLevels, 1108.5, 1870.5, true, 0.72, 'positive-colorbar');
drawColorbar(negativeLevels, 2023.5, 2787, false, 0.79, 'negative-colorbar');
</script>
</body>
</html>
